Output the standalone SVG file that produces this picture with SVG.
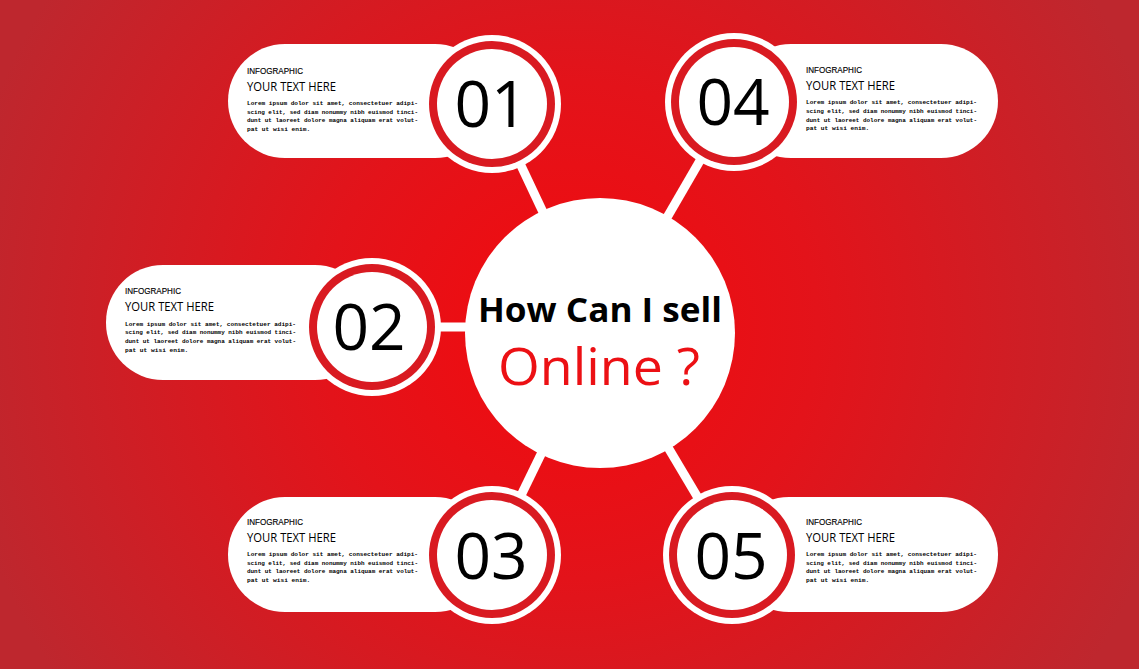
<svg xmlns="http://www.w3.org/2000/svg" width="1139" height="669" viewBox="0 0 1139 669">
<defs>
<radialGradient id="bg" cx="570" cy="330" r="620" gradientUnits="userSpaceOnUse">
<stop offset="0" stop-color="#f20a0e"/>
<stop offset="0.4" stop-color="#e3131a"/>
<stop offset="1" stop-color="#be272e"/>
</radialGradient>
<style>
.pill{fill:#fff}
.ow{fill:#fff}
.rr{fill:#d91a21}
.iw{fill:#fff}
.num{font-family:"Open Sans","Liberation Sans",sans-serif;font-size:64px;fill:#000;text-anchor:middle}
.t1{font-family:"Liberation Sans Narrow","Liberation Sans",sans-serif;font-size:9px;fill:#000;stroke:#000;stroke-width:0.15}
.t2{font-family:"Open Sans","Liberation Sans",sans-serif;font-size:12px;fill:#000}
.t3{font-family:"Liberation Mono","DejaVu Sans Mono",monospace;font-weight:bold;font-size:6.2px;fill:#000}
.conn{stroke:#fff;stroke-width:9;fill:none}
</style>
</defs>
<rect x="0" y="0" width="1139" height="669" fill="url(#bg)"/>
<g id="connectors">
<line class="conn" x1="600" y1="333" x2="492" y2="104"/>
<line class="conn" x1="600" y1="333" x2="734" y2="102"/>
<line class="conn" x1="600" y1="327" x2="372" y2="327"/>
<line class="conn" x1="600" y1="333" x2="492" y2="555"/>
<line class="conn" x1="600" y1="333" x2="732" y2="555"/>
</g>
<g id="center">
<circle cx="600" cy="333" r="135" fill="#fff"/>
<text x="600" y="322" font-family="'Open Sans','Liberation Sans',sans-serif" font-weight="bold" font-size="34" fill="#000" text-anchor="middle" textLength="244" lengthAdjust="spacingAndGlyphs">How Can I sell</text>
<text x="599" y="385" font-family="'Open Sans','Liberation Sans',sans-serif" font-size="52" fill="#ec1014" text-anchor="middle" textLength="202" lengthAdjust="spacingAndGlyphs">Online ?</text>
</g>
<g id="node01">
<rect class="pill" x="228" y="44" width="264" height="114" rx="57"/>
<circle class="ow" cx="492" cy="104" r="69"/>
<circle class="rr" cx="492" cy="104" r="63"/>
<circle class="iw" cx="492" cy="104" r="55"/>
<text class="num" x="491" y="127">01</text>
<text class="t1" x="247" y="74" textLength="56" lengthAdjust="spacingAndGlyphs">INFOGRAPHIC</text>
<text class="t2" x="247" y="91" textLength="89" lengthAdjust="spacingAndGlyphs">YOUR TEXT HERE</text>
<text class="t3" x="247" y="105" textLength="171" lengthAdjust="spacingAndGlyphs">Lorem ipsum dolor sit amet, consectetuer adipi-</text>
<text class="t3" x="247" y="113.7" textLength="171" lengthAdjust="spacingAndGlyphs">scing elit, sed diam nonummy nibh euismod tinci-</text>
<text class="t3" x="247" y="122.4" textLength="171" lengthAdjust="spacingAndGlyphs">dunt ut laoreet dolore magna aliquam erat volut-</text>
<text class="t3" x="247" y="131.1">pat ut wisi enim.</text>
</g>
<g id="node04">
<rect class="pill" x="734" y="44" width="264" height="114" rx="57"/>
<circle class="ow" cx="734" cy="102" r="69"/>
<circle class="rr" cx="734" cy="102" r="63"/>
<circle class="iw" cx="734" cy="102" r="55"/>
<text class="num" x="733" y="125">04</text>
<text class="t1" x="806" y="73" textLength="56" lengthAdjust="spacingAndGlyphs">INFOGRAPHIC</text>
<text class="t2" x="806" y="89.5" textLength="89" lengthAdjust="spacingAndGlyphs">YOUR TEXT HERE</text>
<text class="t3" x="806" y="104.3" textLength="171" lengthAdjust="spacingAndGlyphs">Lorem ipsum dolor sit amet, consectetuer adipi-</text>
<text class="t3" x="806" y="113" textLength="171" lengthAdjust="spacingAndGlyphs">scing elit, sed diam nonummy nibh euismod tinci-</text>
<text class="t3" x="806" y="121.7" textLength="171" lengthAdjust="spacingAndGlyphs">dunt ut laoreet dolore magna aliquam erat volut-</text>
<text class="t3" x="806" y="130.4">pat ut wisi enim.</text>
</g>
<g id="node02">
<rect class="pill" x="106" y="265" width="266" height="115" rx="57"/>
<circle class="ow" cx="372" cy="327" r="69"/>
<circle class="rr" cx="372" cy="327" r="63"/>
<circle class="iw" cx="372" cy="327" r="55"/>
<text class="num" x="369" y="350">02</text>
<text class="t1" x="125" y="294" textLength="56" lengthAdjust="spacingAndGlyphs">INFOGRAPHIC</text>
<text class="t2" x="125" y="311" textLength="89" lengthAdjust="spacingAndGlyphs">YOUR TEXT HERE</text>
<text class="t3" x="125" y="325.5" textLength="171" lengthAdjust="spacingAndGlyphs">Lorem ipsum dolor sit amet, consectetuer adipi-</text>
<text class="t3" x="125" y="334.2" textLength="171" lengthAdjust="spacingAndGlyphs">scing elit, sed diam nonummy nibh euismod tinci-</text>
<text class="t3" x="125" y="342.9" textLength="171" lengthAdjust="spacingAndGlyphs">dunt ut laoreet dolore magna aliquam erat volut-</text>
<text class="t3" x="125" y="351.6">pat ut wisi enim.</text>
</g>
<g id="node03">
<rect class="pill" x="228" y="497" width="264" height="115" rx="57"/>
<circle class="ow" cx="492" cy="555" r="69"/>
<circle class="rr" cx="492" cy="555" r="63"/>
<circle class="iw" cx="492" cy="555" r="55"/>
<text class="num" x="491" y="579">03</text>
<text class="t1" x="247" y="524.5" textLength="56" lengthAdjust="spacingAndGlyphs">INFOGRAPHIC</text>
<text class="t2" x="247" y="541.7" textLength="89" lengthAdjust="spacingAndGlyphs">YOUR TEXT HERE</text>
<text class="t3" x="247" y="556" textLength="171" lengthAdjust="spacingAndGlyphs">Lorem ipsum dolor sit amet, consectetuer adipi-</text>
<text class="t3" x="247" y="564.7" textLength="171" lengthAdjust="spacingAndGlyphs">scing elit, sed diam nonummy nibh euismod tinci-</text>
<text class="t3" x="247" y="573.4" textLength="171" lengthAdjust="spacingAndGlyphs">dunt ut laoreet dolore magna aliquam erat volut-</text>
<text class="t3" x="247" y="582.1">pat ut wisi enim.</text>
</g>
<g id="node05">
<rect class="pill" x="732" y="497" width="266" height="115" rx="57"/>
<circle class="ow" cx="732" cy="555" r="69"/>
<circle class="rr" cx="732" cy="555" r="63"/>
<circle class="iw" cx="732" cy="555" r="55"/>
<text class="num" x="731" y="579">05</text>
<text class="t1" x="806" y="525" textLength="56" lengthAdjust="spacingAndGlyphs">INFOGRAPHIC</text>
<text class="t2" x="806" y="541.7" textLength="89" lengthAdjust="spacingAndGlyphs">YOUR TEXT HERE</text>
<text class="t3" x="806" y="556" textLength="171" lengthAdjust="spacingAndGlyphs">Lorem ipsum dolor sit amet, consectetuer adipi-</text>
<text class="t3" x="806" y="564.7" textLength="171" lengthAdjust="spacingAndGlyphs">scing elit, sed diam nonummy nibh euismod tinci-</text>
<text class="t3" x="806" y="573.4" textLength="171" lengthAdjust="spacingAndGlyphs">dunt ut laoreet dolore magna aliquam erat volut-</text>
<text class="t3" x="806" y="582.1">pat ut wisi enim.</text>
</g>
</svg>
